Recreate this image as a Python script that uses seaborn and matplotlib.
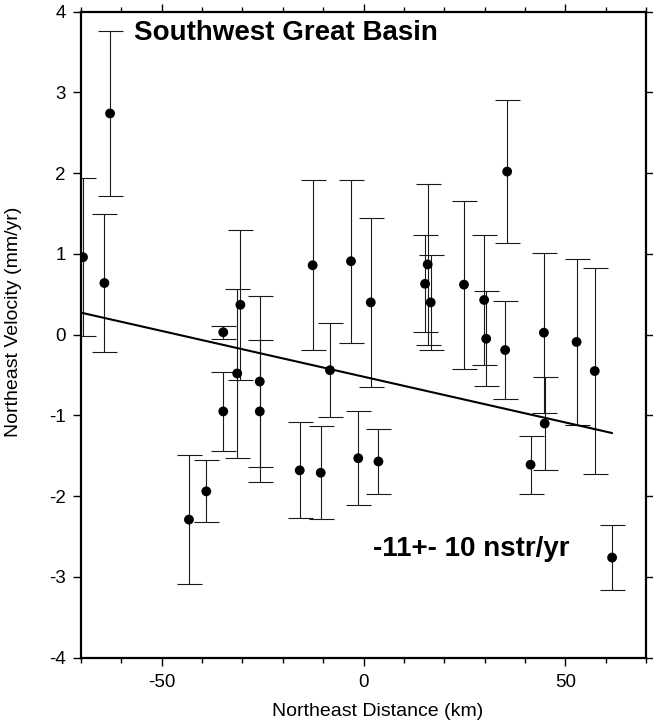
import matplotlib
matplotlib.use("Agg")
import matplotlib.pyplot as plt
import seaborn as sns
import pandas as pd
import numpy as np
from matplotlib.ticker import MultipleLocator

distance_km = [-69.5, -62.8, -64.2, -34.75, -30.5, -31.3, -25.7, -25.7, -34.75,
               -43.25, -38.95, -15.8, -10.6, -8.3, -12.6, -3.1, -1.3, 3.7, 1.8,
               15.25, 15.9, 16.65, 24.9, 29.9, 30.4, 35.1, 35.6, 44.7, 44.9,
               52.8, 57.3, 41.4, 61.6]
velocity = [0.96, 2.74, 0.64, 0.03, 0.37, -0.48, -0.58, -0.95, -0.95,
            -2.29, -1.94, -1.68, -1.71, -0.44, 0.86, 0.91, -1.53, -1.57, 0.40,
            0.63, 0.87, 0.40, 0.62, 0.43, -0.05, -0.19, 2.02, 0.025, -1.10,
            -0.09, -0.45, -1.61, -2.76]
sigma = [0.98, 1.02, 0.86, 0.08, 0.93, 1.05, 1.06, 0.88, 0.49,
         0.80, 0.385, 0.595, 0.575, 0.585, 1.05, 1.01, 0.585, 0.40, 1.045,
         0.60, 1.0, 0.59, 1.04, 0.80, 0.59, 0.61, 0.886, 0.99, 0.57,
         1.03, 1.28, 0.36, 0.40]

fit_slope = -0.01133   # mm/yr per km
fit_intercept = -0.52  # mm/yr at 0 km
fit_x = [-70.0, 61.6]

title_text = "Southwest Great Basin"
rate_text = "-11+- 10 nstr/yr"

df = pd.DataFrame({"x": distance_km, "v": velocity, "s": sigma})
fit_df = pd.DataFrame({"x": fit_x})
fit_df["v"] = fit_intercept + fit_slope * fit_df["x"]

sns.set_style("ticks")
plt.rcParams["font.family"] = ["Liberation Sans", "DejaVu Sans"]
plt.rcParams["axes.unicode_minus"] = False
plt.rcParams["text.color"] = "black"
plt.rcParams["axes.labelcolor"] = "black"
plt.rcParams["xtick.color"] = "black"
plt.rcParams["ytick.color"] = "black"

fig = plt.figure(figsize=(6.53, 7.23), dpi=100)
ax = fig.add_axes([81/653, 1-657.7/723, (646-81)/653, (657.7-11.7)/723])

ax.errorbar(df["x"], df["v"], yerr=df["s"], fmt="none", ecolor="#1a1a1a",
            elinewidth=0.8, capsize=9, capthick=0.8, zorder=2)
sns.lineplot(data=fit_df, x="x", y="v", ax=ax, color="black", linewidth=1.5,
             zorder=3)
sns.scatterplot(data=df, x="x", y="v", ax=ax, color="black", s=50,
                edgecolor="none", zorder=4)

ax.set_xlim(-70, 70)
ax.set_ylim(-4, 4)
ax.xaxis.set_major_locator(MultipleLocator(50))
ax.xaxis.set_minor_locator(MultipleLocator(10))
ax.yaxis.set_major_locator(MultipleLocator(1))
ax.tick_params(axis="both", which="major", direction="out", length=6, width=1,
               labelsize=13.5, top=True, right=True, color="black",
               labelcolor="black")
ax.tick_params(axis="both", which="minor", direction="out", length=3.5,
               width=1, top=True, right=True)
ax.tick_params(axis="x", pad=6)
ax.tick_params(axis="y", pad=5)
for sp in ax.spines.values():
    sp.set_visible(True)
    sp.set_linewidth(1.6)
    sp.set_color("black")

ax.set_xlabel("Northeast Distance (km)", fontsize=14, color="black")
ax.set_ylabel("Northeast Velocity (mm/yr)", fontsize=14, color="black")
ax.xaxis.set_label_coords((377.5-81)/565, -(703-657.7)/646)
ax.yaxis.set_label_coords(-(81-22)/565, (657.7-322)/646)

ax.text(-56.9, 3.74, title_text, fontsize=20, fontweight="bold",
        ha="left", va="center", color="black")
ax.text(2.4, -2.65, rate_text, fontsize=20, fontweight="bold",
        ha="left", va="center", color="black")

fig.savefig("out.png", dpi=100)
